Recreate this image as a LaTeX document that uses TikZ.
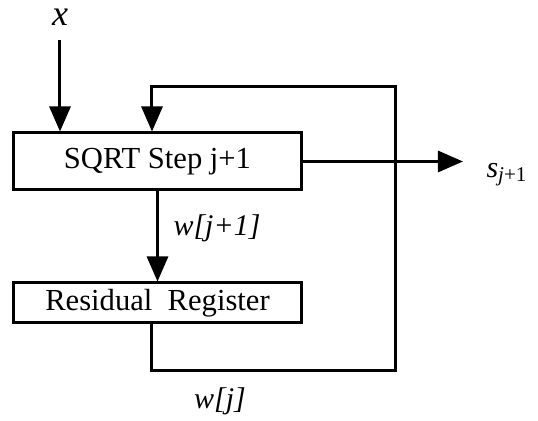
\documentclass[tikz,border=0pt]{standalone}
\usepackage{fontspec}
\setmainfont{Liberation Serif}[ItalicFont={Liberation Serif Italic}]
\usetikzlibrary{arrows.meta,positioning}
\tikzset{
  blocco/.style={draw, line width=1.5pt, minimum width=144pt, inner sep=0pt,
    font=\fontsize{15.3}{18}\selectfont},
  freccia/.style={-{Triangle[length=12.5pt,width=10.5pt]}, line width=1.5pt},
  etichetta/.style={font=\fontsize{15}{18}\selectfont}
}
\begin{document}
\begin{tikzpicture}[x=0.5pt,y=-0.5pt]
        \useasboundingbox (0,0) rectangle (538,421);
        %blocchi
            \node[blocco, minimum height=28.5pt] (passo) at (157.5,161.5) {SQRT Step j+1};
            \node[blocco, minimum height=20pt] (residuo) at (157.5,303) {Residual\ \ Register};
        %etichette
            \node[etichetta, font=\fontsize{18}{20}\selectfont] (ingresso) at (60,17) {\textit{x}};
            \node[etichetta] (uscita) at (507,175) {\textit{s}\textsubscript{\textit{j}+1}};
            \node[etichetta] (wnuovo) at (217,228) {\textit{w[j+1]}};
            \node[etichetta] (wvecchio) at (220,401) {\textit{w[j]}};
        %punti di passaggio
            \coordinate (inizio) at (60,40);
            \coordinate (fine) at (463,161.5);
            \coordinate (basso) at (152,371);
            \coordinate (destra) at (396,371);
            \coordinate (alto) at (396,87);
            \coordinate (rientro) at (152,87);
        %ingresso e uscita
            \draw[freccia] (inizio) -- (inizio |- passo.north);
            \draw[freccia] (passo.east) -- (fine);
        %residuo
            \draw[freccia] (passo.south) -- (residuo.north);
        %retroazione
            \draw[freccia] (residuo.south -| basso) -- (basso) -- (destra) -- (alto) -- (rientro) -- (rientro |- passo.north);
\end{tikzpicture}
\end{document}
